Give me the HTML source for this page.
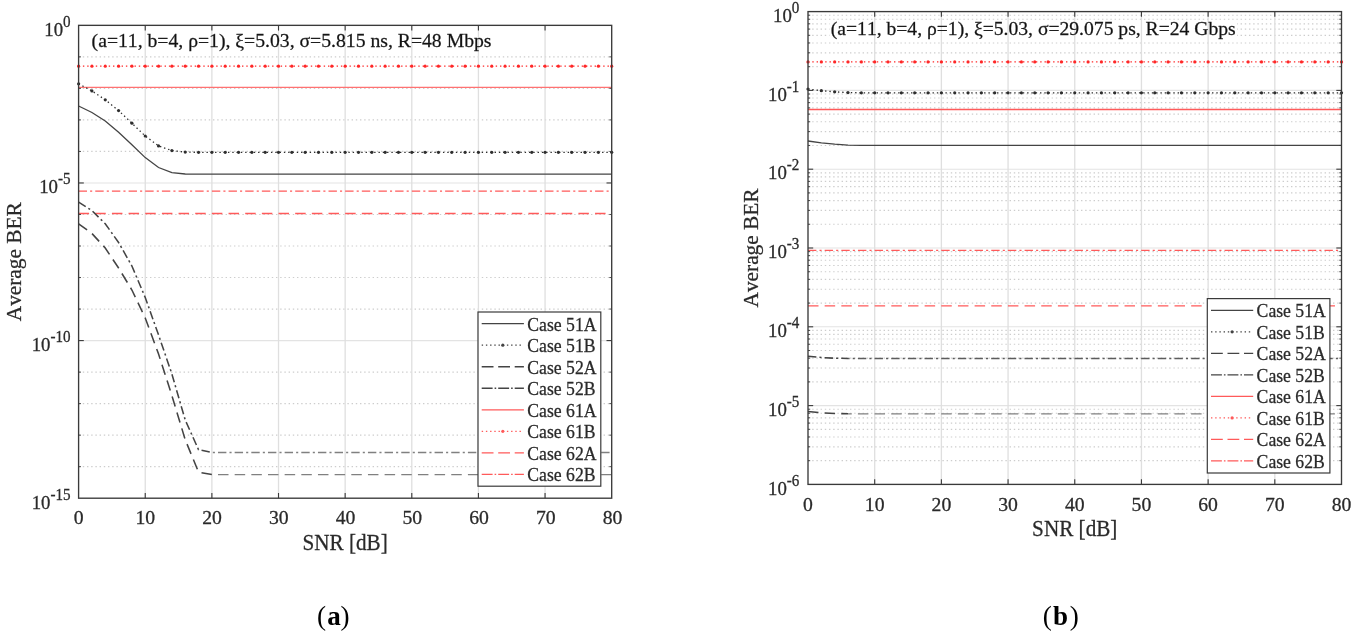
<!DOCTYPE html>
<html lang="en">
<head>
<meta charset="utf-8">
<title>Average BER versus SNR</title>
<style>
html,body{margin:0;padding:0;background:#fff;}
body{width:1357px;height:640px;overflow:hidden;}
svg{display:block;filter:blur(0.35px);}
svg text{font-family:"Liberation Serif",serif;font-kerning:none;font-variant-ligatures:none;stroke:#2a2a2a;stroke-width:0.28px;}
svg .cap text{stroke:none;}
</style>
</head>
<body>
<svg width="1357" height="640" viewBox="0 0 1357 640">
<rect width="1357" height="640" fill="#fff"/>
<line x1="78.6" y1="56.87" x2="611.7" y2="56.87" stroke="#cdcdcd" stroke-width="1.15" stroke-dasharray="1.4 2.8"/>
<line x1="78.6" y1="88.4" x2="611.7" y2="88.4" stroke="#cdcdcd" stroke-width="1.15" stroke-dasharray="1.4 2.8"/>
<line x1="78.6" y1="119.92" x2="611.7" y2="119.92" stroke="#cdcdcd" stroke-width="1.15" stroke-dasharray="1.4 2.8"/>
<line x1="78.6" y1="151.44" x2="611.7" y2="151.44" stroke="#cdcdcd" stroke-width="1.15" stroke-dasharray="1.4 2.8"/>
<line x1="78.6" y1="182.97" x2="611.7" y2="182.97" stroke="#e3e3e3" stroke-width="1.1"/>
<line x1="78.6" y1="214.49" x2="611.7" y2="214.49" stroke="#cdcdcd" stroke-width="1.15" stroke-dasharray="1.4 2.8"/>
<line x1="78.6" y1="246.01" x2="611.7" y2="246.01" stroke="#cdcdcd" stroke-width="1.15" stroke-dasharray="1.4 2.8"/>
<line x1="78.6" y1="277.54" x2="611.7" y2="277.54" stroke="#cdcdcd" stroke-width="1.15" stroke-dasharray="1.4 2.8"/>
<line x1="78.6" y1="309.06" x2="611.7" y2="309.06" stroke="#cdcdcd" stroke-width="1.15" stroke-dasharray="1.4 2.8"/>
<line x1="78.6" y1="340.58" x2="611.7" y2="340.58" stroke="#e3e3e3" stroke-width="1.1"/>
<line x1="78.6" y1="372.11" x2="611.7" y2="372.11" stroke="#cdcdcd" stroke-width="1.15" stroke-dasharray="1.4 2.8"/>
<line x1="78.6" y1="403.63" x2="611.7" y2="403.63" stroke="#cdcdcd" stroke-width="1.15" stroke-dasharray="1.4 2.8"/>
<line x1="78.6" y1="435.15" x2="611.7" y2="435.15" stroke="#cdcdcd" stroke-width="1.15" stroke-dasharray="1.4 2.8"/>
<line x1="78.6" y1="466.68" x2="611.7" y2="466.68" stroke="#cdcdcd" stroke-width="1.15" stroke-dasharray="1.4 2.8"/>
<line x1="145.24" y1="25.35" x2="145.24" y2="498.2" stroke="#dfdfdf" stroke-width="1.3"/>
<line x1="211.88" y1="25.35" x2="211.88" y2="498.2" stroke="#dfdfdf" stroke-width="1.3"/>
<line x1="278.51" y1="25.35" x2="278.51" y2="498.2" stroke="#dfdfdf" stroke-width="1.3"/>
<line x1="345.15" y1="25.35" x2="345.15" y2="498.2" stroke="#dfdfdf" stroke-width="1.3"/>
<line x1="411.79" y1="25.35" x2="411.79" y2="498.2" stroke="#dfdfdf" stroke-width="1.3"/>
<line x1="478.42" y1="25.35" x2="478.42" y2="498.2" stroke="#dfdfdf" stroke-width="1.3"/>
<line x1="545.06" y1="25.35" x2="545.06" y2="498.2" stroke="#dfdfdf" stroke-width="1.3"/>
<polyline points="78.6,66.2 91.93,66.2 105.25,66.2 118.58,66.2 131.91,66.2 145.24,66.2 158.56,66.2 171.89,66.2 185.22,66.2 198.55,66.2 211.88,66.2 225.2,66.2 238.53,66.2 251.86,66.2 265.19,66.2 278.51,66.2 291.84,66.2 305.17,66.2 318.5,66.2 331.82,66.2 345.15,66.2 358.48,66.2 371.81,66.2 385.13,66.2 398.46,66.2 411.79,66.2 425.12,66.2 438.44,66.2 451.77,66.2 465.1,66.2 478.42,66.2 491.75,66.2 505.08,66.2 518.41,66.2 531.74,66.2 545.06,66.2 558.39,66.2 571.72,66.2 585.04,66.2 598.37,66.2 611.7,66.2" fill="none" stroke="#ff2828" stroke-width="1.3" stroke-dasharray="1.4 2.9"/>
<circle cx="78.6" cy="66.2" r="1.6" fill="#ff2828"/>
<circle cx="91.93" cy="66.2" r="1.6" fill="#ff2828"/>
<circle cx="105.25" cy="66.2" r="1.6" fill="#ff2828"/>
<circle cx="118.58" cy="66.2" r="1.6" fill="#ff2828"/>
<circle cx="131.91" cy="66.2" r="1.6" fill="#ff2828"/>
<circle cx="145.24" cy="66.2" r="1.6" fill="#ff2828"/>
<circle cx="158.56" cy="66.2" r="1.6" fill="#ff2828"/>
<circle cx="171.89" cy="66.2" r="1.6" fill="#ff2828"/>
<circle cx="185.22" cy="66.2" r="1.6" fill="#ff2828"/>
<circle cx="198.55" cy="66.2" r="1.6" fill="#ff2828"/>
<circle cx="211.88" cy="66.2" r="1.6" fill="#ff2828"/>
<circle cx="225.2" cy="66.2" r="1.6" fill="#ff2828"/>
<circle cx="238.53" cy="66.2" r="1.6" fill="#ff2828"/>
<circle cx="251.86" cy="66.2" r="1.6" fill="#ff2828"/>
<circle cx="265.19" cy="66.2" r="1.6" fill="#ff2828"/>
<circle cx="278.51" cy="66.2" r="1.6" fill="#ff2828"/>
<circle cx="291.84" cy="66.2" r="1.6" fill="#ff2828"/>
<circle cx="305.17" cy="66.2" r="1.6" fill="#ff2828"/>
<circle cx="318.5" cy="66.2" r="1.6" fill="#ff2828"/>
<circle cx="331.82" cy="66.2" r="1.6" fill="#ff2828"/>
<circle cx="345.15" cy="66.2" r="1.6" fill="#ff2828"/>
<circle cx="358.48" cy="66.2" r="1.6" fill="#ff2828"/>
<circle cx="371.81" cy="66.2" r="1.6" fill="#ff2828"/>
<circle cx="385.13" cy="66.2" r="1.6" fill="#ff2828"/>
<circle cx="398.46" cy="66.2" r="1.6" fill="#ff2828"/>
<circle cx="411.79" cy="66.2" r="1.6" fill="#ff2828"/>
<circle cx="425.12" cy="66.2" r="1.6" fill="#ff2828"/>
<circle cx="438.44" cy="66.2" r="1.6" fill="#ff2828"/>
<circle cx="451.77" cy="66.2" r="1.6" fill="#ff2828"/>
<circle cx="465.1" cy="66.2" r="1.6" fill="#ff2828"/>
<circle cx="478.42" cy="66.2" r="1.6" fill="#ff2828"/>
<circle cx="491.75" cy="66.2" r="1.6" fill="#ff2828"/>
<circle cx="505.08" cy="66.2" r="1.6" fill="#ff2828"/>
<circle cx="518.41" cy="66.2" r="1.6" fill="#ff2828"/>
<circle cx="531.74" cy="66.2" r="1.6" fill="#ff2828"/>
<circle cx="545.06" cy="66.2" r="1.6" fill="#ff2828"/>
<circle cx="558.39" cy="66.2" r="1.6" fill="#ff2828"/>
<circle cx="571.72" cy="66.2" r="1.6" fill="#ff2828"/>
<circle cx="585.04" cy="66.2" r="1.6" fill="#ff2828"/>
<circle cx="598.37" cy="66.2" r="1.6" fill="#ff2828"/>
<circle cx="611.7" cy="66.2" r="1.6" fill="#ff2828"/>
<polyline points="78.6,87.4 91.93,87.4 105.25,87.4 118.58,87.4 131.91,87.4 145.24,87.4 158.56,87.4 171.89,87.4 185.22,87.4 198.55,87.4 211.88,87.4 225.2,87.4 238.53,87.4 251.86,87.4 265.19,87.4 278.51,87.4 291.84,87.4 305.17,87.4 318.5,87.4 331.82,87.4 345.15,87.4 358.48,87.4 371.81,87.4 385.13,87.4 398.46,87.4 411.79,87.4 425.12,87.4 438.44,87.4 451.77,87.4 465.1,87.4 478.42,87.4 491.75,87.4 505.08,87.4 518.41,87.4 531.74,87.4 545.06,87.4 558.39,87.4 571.72,87.4 585.04,87.4 598.37,87.4 611.7,87.4" fill="none" stroke="#ff7272" stroke-width="1.3"/>
<polyline points="78.6,191.1 91.93,191.1 105.25,191.1 118.58,191.1 131.91,191.1 145.24,191.1 158.56,191.1 171.89,191.1 185.22,191.1 198.55,191.1 211.88,191.1 225.2,191.1 238.53,191.1 251.86,191.1 265.19,191.1 278.51,191.1 291.84,191.1 305.17,191.1 318.5,191.1 331.82,191.1 345.15,191.1 358.48,191.1 371.81,191.1 385.13,191.1 398.46,191.1 411.79,191.1 425.12,191.1 438.44,191.1 451.77,191.1 465.1,191.1 478.42,191.1 491.75,191.1 505.08,191.1 518.41,191.1 531.74,191.1 545.06,191.1 558.39,191.1 571.72,191.1 585.04,191.1 598.37,191.1 611.7,191.1" fill="none" stroke="#ff5a5a" stroke-width="1.3" stroke-dasharray="8.4 3.1 2.1 3.06"/>
<polyline points="78.6,213.5 91.93,213.5 105.25,213.5 118.58,213.5 131.91,213.5 145.24,213.5 158.56,213.5 171.89,213.5 185.22,213.5 198.55,213.5 211.88,213.5 225.2,213.5 238.53,213.5 251.86,213.5 265.19,213.5 278.51,213.5 291.84,213.5 305.17,213.5 318.5,213.5 331.82,213.5 345.15,213.5 358.48,213.5 371.81,213.5 385.13,213.5 398.46,213.5 411.79,213.5 425.12,213.5 438.44,213.5 451.77,213.5 465.1,213.5 478.42,213.5 491.75,213.5 505.08,213.5 518.41,213.5 531.74,213.5 545.06,213.5 558.39,213.5 571.72,213.5 585.04,213.5 598.37,213.5 611.7,213.5" fill="none" stroke="#ff5a5a" stroke-width="1.3" stroke-dasharray="10.5 6.16"/>
<polyline points="78.6,83.8 91.93,90.9 105.25,99.8 118.58,110.6 131.91,123.2 145.24,136 158.56,145.9 171.89,150.6 185.22,152.1 198.55,152.3 211.88,152.3 225.2,152.3 238.53,152.3 251.86,152.3 265.19,152.3 278.51,152.3 291.84,152.3 305.17,152.3 318.5,152.3 331.82,152.3 345.15,152.3 358.48,152.3 371.81,152.3 385.13,152.3 398.46,152.3 411.79,152.3 425.12,152.3 438.44,152.3 451.77,152.3 465.1,152.3 478.42,152.3 491.75,152.3 505.08,152.3 518.41,152.3 531.74,152.3 545.06,152.3 558.39,152.3 571.72,152.3 585.04,152.3 598.37,152.3 611.7,152.3" fill="none" stroke="#2e2e2e" stroke-width="1.3" stroke-dasharray="1.4 2.9"/>
<circle cx="78.6" cy="83.8" r="1.6" fill="#2e2e2e"/>
<circle cx="91.93" cy="90.9" r="1.6" fill="#2e2e2e"/>
<circle cx="105.25" cy="99.8" r="1.6" fill="#2e2e2e"/>
<circle cx="118.58" cy="110.6" r="1.6" fill="#2e2e2e"/>
<circle cx="131.91" cy="123.2" r="1.6" fill="#2e2e2e"/>
<circle cx="145.24" cy="136" r="1.6" fill="#2e2e2e"/>
<circle cx="158.56" cy="145.9" r="1.6" fill="#2e2e2e"/>
<circle cx="171.89" cy="150.6" r="1.6" fill="#2e2e2e"/>
<circle cx="185.22" cy="152.1" r="1.6" fill="#2e2e2e"/>
<circle cx="198.55" cy="152.3" r="1.6" fill="#2e2e2e"/>
<circle cx="211.88" cy="152.3" r="1.6" fill="#2e2e2e"/>
<circle cx="225.2" cy="152.3" r="1.6" fill="#2e2e2e"/>
<circle cx="238.53" cy="152.3" r="1.6" fill="#2e2e2e"/>
<circle cx="251.86" cy="152.3" r="1.6" fill="#2e2e2e"/>
<circle cx="265.19" cy="152.3" r="1.6" fill="#2e2e2e"/>
<circle cx="278.51" cy="152.3" r="1.6" fill="#2e2e2e"/>
<circle cx="291.84" cy="152.3" r="1.6" fill="#2e2e2e"/>
<circle cx="305.17" cy="152.3" r="1.6" fill="#2e2e2e"/>
<circle cx="318.5" cy="152.3" r="1.6" fill="#2e2e2e"/>
<circle cx="331.82" cy="152.3" r="1.6" fill="#2e2e2e"/>
<circle cx="345.15" cy="152.3" r="1.6" fill="#2e2e2e"/>
<circle cx="358.48" cy="152.3" r="1.6" fill="#2e2e2e"/>
<circle cx="371.81" cy="152.3" r="1.6" fill="#2e2e2e"/>
<circle cx="385.13" cy="152.3" r="1.6" fill="#2e2e2e"/>
<circle cx="398.46" cy="152.3" r="1.6" fill="#2e2e2e"/>
<circle cx="411.79" cy="152.3" r="1.6" fill="#2e2e2e"/>
<circle cx="425.12" cy="152.3" r="1.6" fill="#2e2e2e"/>
<circle cx="438.44" cy="152.3" r="1.6" fill="#2e2e2e"/>
<circle cx="451.77" cy="152.3" r="1.6" fill="#2e2e2e"/>
<circle cx="465.1" cy="152.3" r="1.6" fill="#2e2e2e"/>
<circle cx="478.42" cy="152.3" r="1.6" fill="#2e2e2e"/>
<circle cx="491.75" cy="152.3" r="1.6" fill="#2e2e2e"/>
<circle cx="505.08" cy="152.3" r="1.6" fill="#2e2e2e"/>
<circle cx="518.41" cy="152.3" r="1.6" fill="#2e2e2e"/>
<circle cx="531.74" cy="152.3" r="1.6" fill="#2e2e2e"/>
<circle cx="545.06" cy="152.3" r="1.6" fill="#2e2e2e"/>
<circle cx="558.39" cy="152.3" r="1.6" fill="#2e2e2e"/>
<circle cx="571.72" cy="152.3" r="1.6" fill="#2e2e2e"/>
<circle cx="585.04" cy="152.3" r="1.6" fill="#2e2e2e"/>
<circle cx="598.37" cy="152.3" r="1.6" fill="#2e2e2e"/>
<circle cx="611.7" cy="152.3" r="1.6" fill="#2e2e2e"/>
<polyline points="78.6,106 91.93,112.5 105.25,121 118.58,132.2 131.91,144.8 145.24,157.6 158.56,167.5 171.89,172.6 185.22,174 198.55,174.2 211.88,174.2 225.2,174.2 238.53,174.2 251.86,174.2 265.19,174.2 278.51,174.2 291.84,174.2 305.17,174.2 318.5,174.2 331.82,174.2 345.15,174.2 358.48,174.2 371.81,174.2 385.13,174.2 398.46,174.2 411.79,174.2 425.12,174.2 438.44,174.2 451.77,174.2 465.1,174.2 478.42,174.2 491.75,174.2 505.08,174.2 518.41,174.2 531.74,174.2 545.06,174.2 558.39,174.2 571.72,174.2 585.04,174.2 598.37,174.2 611.7,174.2" fill="none" stroke="#444444" stroke-width="1.3"/>
<polyline points="78.6,202.2 91.93,210.6 105.25,223.8 118.58,242.5 131.91,266 145.24,297.5 158.56,335 171.89,374 185.22,420 198.55,449.7 211.88,452.5" fill="none" stroke="#444444" stroke-width="1.55" stroke-dasharray="8.4 3.1 2.1 3.06"/>
<line x1="211.88" y1="452.5" x2="611.7" y2="452.5" stroke="#808080" stroke-width="1.3" stroke-dasharray="8.4 3.1 2.1 3.06" stroke-dashoffset="10.55"/>
<polyline points="78.6,223.8 91.93,233.5 105.25,248 118.58,268 131.91,290 145.24,318 158.56,354 171.89,395.6 185.22,439.7 198.55,472.2 211.88,474.6" fill="none" stroke="#444444" stroke-width="1.55" stroke-dasharray="10.5 6.16"/>
<line x1="211.88" y1="474.6" x2="611.7" y2="474.6" stroke="#808080" stroke-width="1.3" stroke-dasharray="10.5 6.16" stroke-dashoffset="10.53"/>
<rect x="78.6" y="25.35" width="533.1" height="472.85" fill="none" stroke="#3a3a3a" stroke-width="1.35"/>
<line x1="145.24" y1="493" x2="145.24" y2="498.2" stroke="#3a3a3a" stroke-width="1.1"/>
<line x1="145.24" y1="25.35" x2="145.24" y2="30.55" stroke="#3a3a3a" stroke-width="1.1"/>
<line x1="211.88" y1="493" x2="211.88" y2="498.2" stroke="#3a3a3a" stroke-width="1.1"/>
<line x1="211.88" y1="25.35" x2="211.88" y2="30.55" stroke="#3a3a3a" stroke-width="1.1"/>
<line x1="278.51" y1="493" x2="278.51" y2="498.2" stroke="#3a3a3a" stroke-width="1.1"/>
<line x1="278.51" y1="25.35" x2="278.51" y2="30.55" stroke="#3a3a3a" stroke-width="1.1"/>
<line x1="345.15" y1="493" x2="345.15" y2="498.2" stroke="#3a3a3a" stroke-width="1.1"/>
<line x1="345.15" y1="25.35" x2="345.15" y2="30.55" stroke="#3a3a3a" stroke-width="1.1"/>
<line x1="411.79" y1="493" x2="411.79" y2="498.2" stroke="#3a3a3a" stroke-width="1.1"/>
<line x1="411.79" y1="25.35" x2="411.79" y2="30.55" stroke="#3a3a3a" stroke-width="1.1"/>
<line x1="478.42" y1="493" x2="478.42" y2="498.2" stroke="#3a3a3a" stroke-width="1.1"/>
<line x1="478.42" y1="25.35" x2="478.42" y2="30.55" stroke="#3a3a3a" stroke-width="1.1"/>
<line x1="545.06" y1="493" x2="545.06" y2="498.2" stroke="#3a3a3a" stroke-width="1.1"/>
<line x1="545.06" y1="25.35" x2="545.06" y2="30.55" stroke="#3a3a3a" stroke-width="1.1"/>
<line x1="78.6" y1="56.87" x2="81" y2="56.87" stroke="#3a3a3a" stroke-width="0.9"/>
<line x1="609.3" y1="56.87" x2="611.7" y2="56.87" stroke="#3a3a3a" stroke-width="0.9"/>
<line x1="78.6" y1="88.4" x2="81" y2="88.4" stroke="#3a3a3a" stroke-width="0.9"/>
<line x1="609.3" y1="88.4" x2="611.7" y2="88.4" stroke="#3a3a3a" stroke-width="0.9"/>
<line x1="78.6" y1="119.92" x2="81" y2="119.92" stroke="#3a3a3a" stroke-width="0.9"/>
<line x1="609.3" y1="119.92" x2="611.7" y2="119.92" stroke="#3a3a3a" stroke-width="0.9"/>
<line x1="78.6" y1="151.44" x2="81" y2="151.44" stroke="#3a3a3a" stroke-width="0.9"/>
<line x1="609.3" y1="151.44" x2="611.7" y2="151.44" stroke="#3a3a3a" stroke-width="0.9"/>
<line x1="78.6" y1="182.97" x2="83.8" y2="182.97" stroke="#3a3a3a" stroke-width="1.1"/>
<line x1="606.5" y1="182.97" x2="611.7" y2="182.97" stroke="#3a3a3a" stroke-width="1.1"/>
<line x1="78.6" y1="214.49" x2="81" y2="214.49" stroke="#3a3a3a" stroke-width="0.9"/>
<line x1="609.3" y1="214.49" x2="611.7" y2="214.49" stroke="#3a3a3a" stroke-width="0.9"/>
<line x1="78.6" y1="246.01" x2="81" y2="246.01" stroke="#3a3a3a" stroke-width="0.9"/>
<line x1="609.3" y1="246.01" x2="611.7" y2="246.01" stroke="#3a3a3a" stroke-width="0.9"/>
<line x1="78.6" y1="277.54" x2="81" y2="277.54" stroke="#3a3a3a" stroke-width="0.9"/>
<line x1="609.3" y1="277.54" x2="611.7" y2="277.54" stroke="#3a3a3a" stroke-width="0.9"/>
<line x1="78.6" y1="309.06" x2="81" y2="309.06" stroke="#3a3a3a" stroke-width="0.9"/>
<line x1="609.3" y1="309.06" x2="611.7" y2="309.06" stroke="#3a3a3a" stroke-width="0.9"/>
<line x1="78.6" y1="340.58" x2="83.8" y2="340.58" stroke="#3a3a3a" stroke-width="1.1"/>
<line x1="606.5" y1="340.58" x2="611.7" y2="340.58" stroke="#3a3a3a" stroke-width="1.1"/>
<line x1="78.6" y1="372.11" x2="81" y2="372.11" stroke="#3a3a3a" stroke-width="0.9"/>
<line x1="609.3" y1="372.11" x2="611.7" y2="372.11" stroke="#3a3a3a" stroke-width="0.9"/>
<line x1="78.6" y1="403.63" x2="81" y2="403.63" stroke="#3a3a3a" stroke-width="0.9"/>
<line x1="609.3" y1="403.63" x2="611.7" y2="403.63" stroke="#3a3a3a" stroke-width="0.9"/>
<line x1="78.6" y1="435.15" x2="81" y2="435.15" stroke="#3a3a3a" stroke-width="0.9"/>
<line x1="609.3" y1="435.15" x2="611.7" y2="435.15" stroke="#3a3a3a" stroke-width="0.9"/>
<line x1="78.6" y1="466.68" x2="81" y2="466.68" stroke="#3a3a3a" stroke-width="0.9"/>
<line x1="609.3" y1="466.68" x2="611.7" y2="466.68" stroke="#3a3a3a" stroke-width="0.9"/>
<text x="78.6" y="524.35" font-size="19.7" text-anchor="middle" fill="#2a2a2a">0</text>
<text x="145.35" y="524.35" font-size="19.7" text-anchor="middle" fill="#2a2a2a">10</text>
<text x="212.1" y="524.35" font-size="19.7" text-anchor="middle" fill="#2a2a2a">20</text>
<text x="278.85" y="524.35" font-size="19.7" text-anchor="middle" fill="#2a2a2a">30</text>
<text x="345.6" y="524.35" font-size="19.7" text-anchor="middle" fill="#2a2a2a">40</text>
<text x="412.35" y="524.35" font-size="19.7" text-anchor="middle" fill="#2a2a2a">50</text>
<text x="479.1" y="524.35" font-size="19.7" text-anchor="middle" fill="#2a2a2a">60</text>
<text x="545.85" y="524.35" font-size="19.7" text-anchor="middle" fill="#2a2a2a">70</text>
<text x="612.6" y="524.35" font-size="19.7" text-anchor="middle" fill="#2a2a2a">80</text>
<text transform="translate(345.15 550.2) scale(0.925 1)" font-size="22.9" text-anchor="middle" fill="#2a2a2a">SNR [dB]</text>
<text transform="translate(70.6 35.75) scale(0.955 1)" font-size="19.7" text-anchor="end" fill="#2a2a2a">10<tspan font-size="15.8" dy="-8.9">0</tspan></text>
<text transform="translate(70.6 193.37) scale(0.955 1)" font-size="19.7" text-anchor="end" fill="#2a2a2a">10<tspan font-size="15.8" dy="-8.9">-5</tspan></text>
<text transform="translate(70.6 350.98) scale(0.955 1)" font-size="19.7" text-anchor="end" fill="#2a2a2a">10<tspan font-size="15.8" dy="-8.9">-10</tspan></text>
<text transform="translate(70.6 508.6) scale(0.955 1)" font-size="19.7" text-anchor="end" fill="#2a2a2a">10<tspan font-size="15.8" dy="-8.9">-15</tspan></text>
<text transform="translate(21.3 261.77) rotate(-90)" font-size="21.3" text-anchor="middle" fill="#2a2a2a">Average BER</text>
<text x="91.6" y="46.6" font-size="19.7" text-anchor="start" fill="#111">(a=11, b=4, ρ=1), ξ=5.03, σ=5.815 ns, R=48 Mbps</text>
<rect x="478" y="312" width="122.8" height="174.2" fill="#fff" stroke="#3a3a3a" stroke-width="1.2"/>
<line x1="481.7" y1="323.7" x2="523.9" y2="323.7" stroke="#444444" stroke-width="1.3"/>
<text transform="translate(527.3 330.5) scale(0.945 1)" font-size="18.7" fill="#2a2a2a">Case 51A</text>
<line x1="481.7" y1="345.22" x2="520.9" y2="345.22" stroke="#444444" stroke-width="1.2" stroke-dasharray="1.4 2.8"/>
<circle cx="502.8" cy="345.22" r="1.6" fill="#444444"/>
<text transform="translate(527.3 352.02) scale(0.945 1)" font-size="18.7" fill="#2a2a2a">Case 51B</text>
<line x1="481.7" y1="366.74" x2="523.9" y2="366.74" stroke="#444444" stroke-width="1.3" stroke-dasharray="11.8 4.7"/>
<text transform="translate(527.3 373.54) scale(0.945 1)" font-size="18.7" fill="#2a2a2a">Case 52A</text>
<line x1="481.7" y1="388.26" x2="523.9" y2="388.26" stroke="#444444" stroke-width="1.3" stroke-dasharray="10.9 2 1.6 2"/>
<text transform="translate(527.3 395.06) scale(0.945 1)" font-size="18.7" fill="#2a2a2a">Case 52B</text>
<line x1="481.7" y1="409.78" x2="523.9" y2="409.78" stroke="#ff5a5a" stroke-width="1.3"/>
<text transform="translate(527.3 416.58) scale(0.945 1)" font-size="18.7" fill="#2a2a2a">Case 61A</text>
<line x1="481.7" y1="431.3" x2="520.9" y2="431.3" stroke="#ff5a5a" stroke-width="1.2" stroke-dasharray="1.4 2.8"/>
<circle cx="502.8" cy="431.3" r="1.6" fill="#ff5a5a"/>
<text transform="translate(527.3 438.1) scale(0.945 1)" font-size="18.7" fill="#2a2a2a">Case 61B</text>
<line x1="481.7" y1="452.82" x2="523.9" y2="452.82" stroke="#ff5a5a" stroke-width="1.3" stroke-dasharray="11.8 4.7"/>
<text transform="translate(527.3 459.62) scale(0.945 1)" font-size="18.7" fill="#2a2a2a">Case 62A</text>
<line x1="481.7" y1="474.34" x2="523.9" y2="474.34" stroke="#ff5a5a" stroke-width="1.3" stroke-dasharray="10.9 2 1.6 2"/>
<text transform="translate(527.3 481.14) scale(0.945 1)" font-size="18.7" fill="#2a2a2a">Case 62B</text>
<line x1="808" y1="66.68" x2="1341.5" y2="66.68" stroke="#cdcdcd" stroke-width="1.15" stroke-dasharray="1.4 2.8"/>
<line x1="808" y1="52.8" x2="1341.5" y2="52.8" stroke="#cdcdcd" stroke-width="1.15" stroke-dasharray="1.4 2.8"/>
<line x1="808" y1="42.96" x2="1341.5" y2="42.96" stroke="#cdcdcd" stroke-width="1.15" stroke-dasharray="1.4 2.8"/>
<line x1="808" y1="35.32" x2="1341.5" y2="35.32" stroke="#cdcdcd" stroke-width="1.15" stroke-dasharray="1.4 2.8"/>
<line x1="808" y1="29.08" x2="1341.5" y2="29.08" stroke="#cdcdcd" stroke-width="1.15" stroke-dasharray="1.4 2.8"/>
<line x1="808" y1="23.81" x2="1341.5" y2="23.81" stroke="#cdcdcd" stroke-width="1.15" stroke-dasharray="1.4 2.8"/>
<line x1="808" y1="19.24" x2="1341.5" y2="19.24" stroke="#cdcdcd" stroke-width="1.15" stroke-dasharray="1.4 2.8"/>
<line x1="808" y1="15.21" x2="1341.5" y2="15.21" stroke="#cdcdcd" stroke-width="1.15" stroke-dasharray="1.4 2.8"/>
<line x1="808" y1="90.4" x2="1341.5" y2="90.4" stroke="#e3e3e3" stroke-width="1.1"/>
<line x1="808" y1="145.48" x2="1341.5" y2="145.48" stroke="#cdcdcd" stroke-width="1.15" stroke-dasharray="1.4 2.8"/>
<line x1="808" y1="131.6" x2="1341.5" y2="131.6" stroke="#cdcdcd" stroke-width="1.15" stroke-dasharray="1.4 2.8"/>
<line x1="808" y1="121.76" x2="1341.5" y2="121.76" stroke="#cdcdcd" stroke-width="1.15" stroke-dasharray="1.4 2.8"/>
<line x1="808" y1="114.12" x2="1341.5" y2="114.12" stroke="#cdcdcd" stroke-width="1.15" stroke-dasharray="1.4 2.8"/>
<line x1="808" y1="107.88" x2="1341.5" y2="107.88" stroke="#cdcdcd" stroke-width="1.15" stroke-dasharray="1.4 2.8"/>
<line x1="808" y1="102.61" x2="1341.5" y2="102.61" stroke="#cdcdcd" stroke-width="1.15" stroke-dasharray="1.4 2.8"/>
<line x1="808" y1="98.04" x2="1341.5" y2="98.04" stroke="#cdcdcd" stroke-width="1.15" stroke-dasharray="1.4 2.8"/>
<line x1="808" y1="94.01" x2="1341.5" y2="94.01" stroke="#cdcdcd" stroke-width="1.15" stroke-dasharray="1.4 2.8"/>
<line x1="808" y1="169.2" x2="1341.5" y2="169.2" stroke="#e3e3e3" stroke-width="1.1"/>
<line x1="808" y1="224.28" x2="1341.5" y2="224.28" stroke="#cdcdcd" stroke-width="1.15" stroke-dasharray="1.4 2.8"/>
<line x1="808" y1="210.4" x2="1341.5" y2="210.4" stroke="#cdcdcd" stroke-width="1.15" stroke-dasharray="1.4 2.8"/>
<line x1="808" y1="200.56" x2="1341.5" y2="200.56" stroke="#cdcdcd" stroke-width="1.15" stroke-dasharray="1.4 2.8"/>
<line x1="808" y1="192.92" x2="1341.5" y2="192.92" stroke="#cdcdcd" stroke-width="1.15" stroke-dasharray="1.4 2.8"/>
<line x1="808" y1="186.68" x2="1341.5" y2="186.68" stroke="#cdcdcd" stroke-width="1.15" stroke-dasharray="1.4 2.8"/>
<line x1="808" y1="181.41" x2="1341.5" y2="181.41" stroke="#cdcdcd" stroke-width="1.15" stroke-dasharray="1.4 2.8"/>
<line x1="808" y1="176.84" x2="1341.5" y2="176.84" stroke="#cdcdcd" stroke-width="1.15" stroke-dasharray="1.4 2.8"/>
<line x1="808" y1="172.81" x2="1341.5" y2="172.81" stroke="#cdcdcd" stroke-width="1.15" stroke-dasharray="1.4 2.8"/>
<line x1="808" y1="248" x2="1341.5" y2="248" stroke="#e3e3e3" stroke-width="1.1"/>
<line x1="808" y1="303.08" x2="1341.5" y2="303.08" stroke="#cdcdcd" stroke-width="1.15" stroke-dasharray="1.4 2.8"/>
<line x1="808" y1="289.2" x2="1341.5" y2="289.2" stroke="#cdcdcd" stroke-width="1.15" stroke-dasharray="1.4 2.8"/>
<line x1="808" y1="279.36" x2="1341.5" y2="279.36" stroke="#cdcdcd" stroke-width="1.15" stroke-dasharray="1.4 2.8"/>
<line x1="808" y1="271.72" x2="1341.5" y2="271.72" stroke="#cdcdcd" stroke-width="1.15" stroke-dasharray="1.4 2.8"/>
<line x1="808" y1="265.48" x2="1341.5" y2="265.48" stroke="#cdcdcd" stroke-width="1.15" stroke-dasharray="1.4 2.8"/>
<line x1="808" y1="260.21" x2="1341.5" y2="260.21" stroke="#cdcdcd" stroke-width="1.15" stroke-dasharray="1.4 2.8"/>
<line x1="808" y1="255.64" x2="1341.5" y2="255.64" stroke="#cdcdcd" stroke-width="1.15" stroke-dasharray="1.4 2.8"/>
<line x1="808" y1="251.61" x2="1341.5" y2="251.61" stroke="#cdcdcd" stroke-width="1.15" stroke-dasharray="1.4 2.8"/>
<line x1="808" y1="326.8" x2="1341.5" y2="326.8" stroke="#e3e3e3" stroke-width="1.1"/>
<line x1="808" y1="381.88" x2="1341.5" y2="381.88" stroke="#cdcdcd" stroke-width="1.15" stroke-dasharray="1.4 2.8"/>
<line x1="808" y1="368" x2="1341.5" y2="368" stroke="#cdcdcd" stroke-width="1.15" stroke-dasharray="1.4 2.8"/>
<line x1="808" y1="358.16" x2="1341.5" y2="358.16" stroke="#cdcdcd" stroke-width="1.15" stroke-dasharray="1.4 2.8"/>
<line x1="808" y1="350.52" x2="1341.5" y2="350.52" stroke="#cdcdcd" stroke-width="1.15" stroke-dasharray="1.4 2.8"/>
<line x1="808" y1="344.28" x2="1341.5" y2="344.28" stroke="#cdcdcd" stroke-width="1.15" stroke-dasharray="1.4 2.8"/>
<line x1="808" y1="339.01" x2="1341.5" y2="339.01" stroke="#cdcdcd" stroke-width="1.15" stroke-dasharray="1.4 2.8"/>
<line x1="808" y1="334.44" x2="1341.5" y2="334.44" stroke="#cdcdcd" stroke-width="1.15" stroke-dasharray="1.4 2.8"/>
<line x1="808" y1="330.41" x2="1341.5" y2="330.41" stroke="#cdcdcd" stroke-width="1.15" stroke-dasharray="1.4 2.8"/>
<line x1="808" y1="405.6" x2="1341.5" y2="405.6" stroke="#e3e3e3" stroke-width="1.1"/>
<line x1="808" y1="460.68" x2="1341.5" y2="460.68" stroke="#cdcdcd" stroke-width="1.15" stroke-dasharray="1.4 2.8"/>
<line x1="808" y1="446.8" x2="1341.5" y2="446.8" stroke="#cdcdcd" stroke-width="1.15" stroke-dasharray="1.4 2.8"/>
<line x1="808" y1="436.96" x2="1341.5" y2="436.96" stroke="#cdcdcd" stroke-width="1.15" stroke-dasharray="1.4 2.8"/>
<line x1="808" y1="429.32" x2="1341.5" y2="429.32" stroke="#cdcdcd" stroke-width="1.15" stroke-dasharray="1.4 2.8"/>
<line x1="808" y1="423.08" x2="1341.5" y2="423.08" stroke="#cdcdcd" stroke-width="1.15" stroke-dasharray="1.4 2.8"/>
<line x1="808" y1="417.81" x2="1341.5" y2="417.81" stroke="#cdcdcd" stroke-width="1.15" stroke-dasharray="1.4 2.8"/>
<line x1="808" y1="413.24" x2="1341.5" y2="413.24" stroke="#cdcdcd" stroke-width="1.15" stroke-dasharray="1.4 2.8"/>
<line x1="808" y1="409.21" x2="1341.5" y2="409.21" stroke="#cdcdcd" stroke-width="1.15" stroke-dasharray="1.4 2.8"/>
<rect x="829.5" y="21.4" width="407.5" height="20" fill="#fff"/>
<line x1="874.69" y1="11.6" x2="874.69" y2="484.4" stroke="#dfdfdf" stroke-width="1.3"/>
<line x1="941.38" y1="11.6" x2="941.38" y2="484.4" stroke="#dfdfdf" stroke-width="1.3"/>
<line x1="1008.06" y1="11.6" x2="1008.06" y2="484.4" stroke="#dfdfdf" stroke-width="1.3"/>
<line x1="1074.75" y1="11.6" x2="1074.75" y2="484.4" stroke="#dfdfdf" stroke-width="1.3"/>
<line x1="1141.44" y1="11.6" x2="1141.44" y2="484.4" stroke="#dfdfdf" stroke-width="1.3"/>
<line x1="1208.12" y1="11.6" x2="1208.12" y2="484.4" stroke="#dfdfdf" stroke-width="1.3"/>
<line x1="1274.81" y1="11.6" x2="1274.81" y2="484.4" stroke="#dfdfdf" stroke-width="1.3"/>
<polyline points="808,61.9 821.34,61.9 834.67,61.9 848.01,61.9 861.35,61.9 874.69,61.9 888.02,61.9 901.36,61.9 914.7,61.9 928.04,61.9 941.38,61.9 954.71,61.9 968.05,61.9 981.39,61.9 994.73,61.9 1008.06,61.9 1021.4,61.9 1034.74,61.9 1048.08,61.9 1061.41,61.9 1074.75,61.9 1088.09,61.9 1101.42,61.9 1114.76,61.9 1128.1,61.9 1141.44,61.9 1154.78,61.9 1168.11,61.9 1181.45,61.9 1194.79,61.9 1208.12,61.9 1221.46,61.9 1234.8,61.9 1248.14,61.9 1261.47,61.9 1274.81,61.9 1288.15,61.9 1301.49,61.9 1314.83,61.9 1328.16,61.9 1341.5,61.9" fill="none" stroke="#ff2828" stroke-width="1.3" stroke-dasharray="1.4 2.9"/>
<circle cx="808" cy="61.9" r="1.6" fill="#ff2828"/>
<circle cx="821.34" cy="61.9" r="1.6" fill="#ff2828"/>
<circle cx="834.67" cy="61.9" r="1.6" fill="#ff2828"/>
<circle cx="848.01" cy="61.9" r="1.6" fill="#ff2828"/>
<circle cx="861.35" cy="61.9" r="1.6" fill="#ff2828"/>
<circle cx="874.69" cy="61.9" r="1.6" fill="#ff2828"/>
<circle cx="888.02" cy="61.9" r="1.6" fill="#ff2828"/>
<circle cx="901.36" cy="61.9" r="1.6" fill="#ff2828"/>
<circle cx="914.7" cy="61.9" r="1.6" fill="#ff2828"/>
<circle cx="928.04" cy="61.9" r="1.6" fill="#ff2828"/>
<circle cx="941.38" cy="61.9" r="1.6" fill="#ff2828"/>
<circle cx="954.71" cy="61.9" r="1.6" fill="#ff2828"/>
<circle cx="968.05" cy="61.9" r="1.6" fill="#ff2828"/>
<circle cx="981.39" cy="61.9" r="1.6" fill="#ff2828"/>
<circle cx="994.73" cy="61.9" r="1.6" fill="#ff2828"/>
<circle cx="1008.06" cy="61.9" r="1.6" fill="#ff2828"/>
<circle cx="1021.4" cy="61.9" r="1.6" fill="#ff2828"/>
<circle cx="1034.74" cy="61.9" r="1.6" fill="#ff2828"/>
<circle cx="1048.08" cy="61.9" r="1.6" fill="#ff2828"/>
<circle cx="1061.41" cy="61.9" r="1.6" fill="#ff2828"/>
<circle cx="1074.75" cy="61.9" r="1.6" fill="#ff2828"/>
<circle cx="1088.09" cy="61.9" r="1.6" fill="#ff2828"/>
<circle cx="1101.42" cy="61.9" r="1.6" fill="#ff2828"/>
<circle cx="1114.76" cy="61.9" r="1.6" fill="#ff2828"/>
<circle cx="1128.1" cy="61.9" r="1.6" fill="#ff2828"/>
<circle cx="1141.44" cy="61.9" r="1.6" fill="#ff2828"/>
<circle cx="1154.78" cy="61.9" r="1.6" fill="#ff2828"/>
<circle cx="1168.11" cy="61.9" r="1.6" fill="#ff2828"/>
<circle cx="1181.45" cy="61.9" r="1.6" fill="#ff2828"/>
<circle cx="1194.79" cy="61.9" r="1.6" fill="#ff2828"/>
<circle cx="1208.12" cy="61.9" r="1.6" fill="#ff2828"/>
<circle cx="1221.46" cy="61.9" r="1.6" fill="#ff2828"/>
<circle cx="1234.8" cy="61.9" r="1.6" fill="#ff2828"/>
<circle cx="1248.14" cy="61.9" r="1.6" fill="#ff2828"/>
<circle cx="1261.47" cy="61.9" r="1.6" fill="#ff2828"/>
<circle cx="1274.81" cy="61.9" r="1.6" fill="#ff2828"/>
<circle cx="1288.15" cy="61.9" r="1.6" fill="#ff2828"/>
<circle cx="1301.49" cy="61.9" r="1.6" fill="#ff2828"/>
<circle cx="1314.83" cy="61.9" r="1.6" fill="#ff2828"/>
<circle cx="1328.16" cy="61.9" r="1.6" fill="#ff2828"/>
<circle cx="1341.5" cy="61.9" r="1.6" fill="#ff2828"/>
<polyline points="808,109.5 821.34,109.5 834.67,109.5 848.01,109.5 861.35,109.5 874.69,109.5 888.02,109.5 901.36,109.5 914.7,109.5 928.04,109.5 941.38,109.5 954.71,109.5 968.05,109.5 981.39,109.5 994.73,109.5 1008.06,109.5 1021.4,109.5 1034.74,109.5 1048.08,109.5 1061.41,109.5 1074.75,109.5 1088.09,109.5 1101.42,109.5 1114.76,109.5 1128.1,109.5 1141.44,109.5 1154.78,109.5 1168.11,109.5 1181.45,109.5 1194.79,109.5 1208.12,109.5 1221.46,109.5 1234.8,109.5 1248.14,109.5 1261.47,109.5 1274.81,109.5 1288.15,109.5 1301.49,109.5 1314.83,109.5 1328.16,109.5 1341.5,109.5" fill="none" stroke="#ff5a5a" stroke-width="1.3"/>
<polyline points="808,250.4 821.34,250.4 834.67,250.4 848.01,250.4 861.35,250.4 874.69,250.4 888.02,250.4 901.36,250.4 914.7,250.4 928.04,250.4 941.38,250.4 954.71,250.4 968.05,250.4 981.39,250.4 994.73,250.4 1008.06,250.4 1021.4,250.4 1034.74,250.4 1048.08,250.4 1061.41,250.4 1074.75,250.4 1088.09,250.4 1101.42,250.4 1114.76,250.4 1128.1,250.4 1141.44,250.4 1154.78,250.4 1168.11,250.4 1181.45,250.4 1194.79,250.4 1208.12,250.4 1221.46,250.4 1234.8,250.4 1248.14,250.4 1261.47,250.4 1274.81,250.4 1288.15,250.4 1301.49,250.4 1314.83,250.4 1328.16,250.4 1341.5,250.4" fill="none" stroke="#ff5a5a" stroke-width="1.3" stroke-dasharray="8.4 3.1 2.1 3.06"/>
<polyline points="808,305.9 821.34,305.9 834.67,305.9 848.01,305.9 861.35,305.9 874.69,305.9 888.02,305.9 901.36,305.9 914.7,305.9 928.04,305.9 941.38,305.9 954.71,305.9 968.05,305.9 981.39,305.9 994.73,305.9 1008.06,305.9 1021.4,305.9 1034.74,305.9 1048.08,305.9 1061.41,305.9 1074.75,305.9 1088.09,305.9 1101.42,305.9 1114.76,305.9 1128.1,305.9 1141.44,305.9 1154.78,305.9 1168.11,305.9 1181.45,305.9 1194.79,305.9 1208.12,305.9 1221.46,305.9 1234.8,305.9 1248.14,305.9 1261.47,305.9 1274.81,305.9 1288.15,305.9 1301.49,305.9 1314.83,305.9 1328.16,305.9 1341.5,305.9" fill="none" stroke="#ff5a5a" stroke-width="1.3" stroke-dasharray="10.5 6.16"/>
<polyline points="808,89 821.34,90.7 834.67,91.8 848.01,92.6 861.35,92.8 874.69,92.8 888.02,92.8 901.36,92.8 914.7,92.8 928.04,92.8 941.38,92.8 954.71,92.8 968.05,92.8 981.39,92.8 994.73,92.8 1008.06,92.8 1021.4,92.8 1034.74,92.8 1048.08,92.8 1061.41,92.8 1074.75,92.8 1088.09,92.8 1101.42,92.8 1114.76,92.8 1128.1,92.8 1141.44,92.8 1154.78,92.8 1168.11,92.8 1181.45,92.8 1194.79,92.8 1208.12,92.8 1221.46,92.8 1234.8,92.8 1248.14,92.8 1261.47,92.8 1274.81,92.8 1288.15,92.8 1301.49,92.8 1314.83,92.8 1328.16,92.8 1341.5,92.8" fill="none" stroke="#2e2e2e" stroke-width="1.3" stroke-dasharray="1.4 2.9"/>
<circle cx="808" cy="89" r="1.6" fill="#2e2e2e"/>
<circle cx="821.34" cy="90.7" r="1.6" fill="#2e2e2e"/>
<circle cx="834.67" cy="91.8" r="1.6" fill="#2e2e2e"/>
<circle cx="848.01" cy="92.6" r="1.6" fill="#2e2e2e"/>
<circle cx="861.35" cy="92.8" r="1.6" fill="#2e2e2e"/>
<circle cx="874.69" cy="92.8" r="1.6" fill="#2e2e2e"/>
<circle cx="888.02" cy="92.8" r="1.6" fill="#2e2e2e"/>
<circle cx="901.36" cy="92.8" r="1.6" fill="#2e2e2e"/>
<circle cx="914.7" cy="92.8" r="1.6" fill="#2e2e2e"/>
<circle cx="928.04" cy="92.8" r="1.6" fill="#2e2e2e"/>
<circle cx="941.38" cy="92.8" r="1.6" fill="#2e2e2e"/>
<circle cx="954.71" cy="92.8" r="1.6" fill="#2e2e2e"/>
<circle cx="968.05" cy="92.8" r="1.6" fill="#2e2e2e"/>
<circle cx="981.39" cy="92.8" r="1.6" fill="#2e2e2e"/>
<circle cx="994.73" cy="92.8" r="1.6" fill="#2e2e2e"/>
<circle cx="1008.06" cy="92.8" r="1.6" fill="#2e2e2e"/>
<circle cx="1021.4" cy="92.8" r="1.6" fill="#2e2e2e"/>
<circle cx="1034.74" cy="92.8" r="1.6" fill="#2e2e2e"/>
<circle cx="1048.08" cy="92.8" r="1.6" fill="#2e2e2e"/>
<circle cx="1061.41" cy="92.8" r="1.6" fill="#2e2e2e"/>
<circle cx="1074.75" cy="92.8" r="1.6" fill="#2e2e2e"/>
<circle cx="1088.09" cy="92.8" r="1.6" fill="#2e2e2e"/>
<circle cx="1101.42" cy="92.8" r="1.6" fill="#2e2e2e"/>
<circle cx="1114.76" cy="92.8" r="1.6" fill="#2e2e2e"/>
<circle cx="1128.1" cy="92.8" r="1.6" fill="#2e2e2e"/>
<circle cx="1141.44" cy="92.8" r="1.6" fill="#2e2e2e"/>
<circle cx="1154.78" cy="92.8" r="1.6" fill="#2e2e2e"/>
<circle cx="1168.11" cy="92.8" r="1.6" fill="#2e2e2e"/>
<circle cx="1181.45" cy="92.8" r="1.6" fill="#2e2e2e"/>
<circle cx="1194.79" cy="92.8" r="1.6" fill="#2e2e2e"/>
<circle cx="1208.12" cy="92.8" r="1.6" fill="#2e2e2e"/>
<circle cx="1221.46" cy="92.8" r="1.6" fill="#2e2e2e"/>
<circle cx="1234.8" cy="92.8" r="1.6" fill="#2e2e2e"/>
<circle cx="1248.14" cy="92.8" r="1.6" fill="#2e2e2e"/>
<circle cx="1261.47" cy="92.8" r="1.6" fill="#2e2e2e"/>
<circle cx="1274.81" cy="92.8" r="1.6" fill="#2e2e2e"/>
<circle cx="1288.15" cy="92.8" r="1.6" fill="#2e2e2e"/>
<circle cx="1301.49" cy="92.8" r="1.6" fill="#2e2e2e"/>
<circle cx="1314.83" cy="92.8" r="1.6" fill="#2e2e2e"/>
<circle cx="1328.16" cy="92.8" r="1.6" fill="#2e2e2e"/>
<circle cx="1341.5" cy="92.8" r="1.6" fill="#2e2e2e"/>
<polyline points="808,141 821.34,142.9 834.67,144.2 848.01,145.1 861.35,145.3 874.69,145.3 888.02,145.3 901.36,145.3 914.7,145.3 928.04,145.3 941.38,145.3 954.71,145.3 968.05,145.3 981.39,145.3 994.73,145.3 1008.06,145.3 1021.4,145.3 1034.74,145.3 1048.08,145.3 1061.41,145.3 1074.75,145.3 1088.09,145.3 1101.42,145.3 1114.76,145.3 1128.1,145.3 1141.44,145.3 1154.78,145.3 1168.11,145.3 1181.45,145.3 1194.79,145.3 1208.12,145.3 1221.46,145.3 1234.8,145.3 1248.14,145.3 1261.47,145.3 1274.81,145.3 1288.15,145.3 1301.49,145.3 1314.83,145.3 1328.16,145.3 1341.5,145.3" fill="none" stroke="#444444" stroke-width="1.3"/>
<polyline points="808,356.2 821.34,357.5 834.67,358.2 848.01,358.5" fill="none" stroke="#444444" stroke-width="1.55" stroke-dasharray="8.4 3.1 2.1 3.06"/>
<line x1="848.01" y1="358.5" x2="1341.5" y2="358.5" stroke="#5c5c5c" stroke-width="1.3" stroke-dasharray="8.4 3.1 2.1 3.06" stroke-dashoffset="6.78"/>
<polyline points="808,411.6 821.34,412.8 834.67,413.5 848.01,413.8" fill="none" stroke="#444444" stroke-width="1.55" stroke-dasharray="10.5 6.16"/>
<line x1="848.01" y1="413.8" x2="1341.5" y2="413.8" stroke="#808080" stroke-width="1.3" stroke-dasharray="10.5 6.16" stroke-dashoffset="6.77"/>
<rect x="808" y="11.6" width="533.5" height="472.8" fill="none" stroke="#3a3a3a" stroke-width="1.35"/>
<line x1="874.69" y1="479.2" x2="874.69" y2="484.4" stroke="#3a3a3a" stroke-width="1.1"/>
<line x1="874.69" y1="11.6" x2="874.69" y2="16.8" stroke="#3a3a3a" stroke-width="1.1"/>
<line x1="941.38" y1="479.2" x2="941.38" y2="484.4" stroke="#3a3a3a" stroke-width="1.1"/>
<line x1="941.38" y1="11.6" x2="941.38" y2="16.8" stroke="#3a3a3a" stroke-width="1.1"/>
<line x1="1008.06" y1="479.2" x2="1008.06" y2="484.4" stroke="#3a3a3a" stroke-width="1.1"/>
<line x1="1008.06" y1="11.6" x2="1008.06" y2="16.8" stroke="#3a3a3a" stroke-width="1.1"/>
<line x1="1074.75" y1="479.2" x2="1074.75" y2="484.4" stroke="#3a3a3a" stroke-width="1.1"/>
<line x1="1074.75" y1="11.6" x2="1074.75" y2="16.8" stroke="#3a3a3a" stroke-width="1.1"/>
<line x1="1141.44" y1="479.2" x2="1141.44" y2="484.4" stroke="#3a3a3a" stroke-width="1.1"/>
<line x1="1141.44" y1="11.6" x2="1141.44" y2="16.8" stroke="#3a3a3a" stroke-width="1.1"/>
<line x1="1208.12" y1="479.2" x2="1208.12" y2="484.4" stroke="#3a3a3a" stroke-width="1.1"/>
<line x1="1208.12" y1="11.6" x2="1208.12" y2="16.8" stroke="#3a3a3a" stroke-width="1.1"/>
<line x1="1274.81" y1="479.2" x2="1274.81" y2="484.4" stroke="#3a3a3a" stroke-width="1.1"/>
<line x1="1274.81" y1="11.6" x2="1274.81" y2="16.8" stroke="#3a3a3a" stroke-width="1.1"/>
<line x1="808" y1="66.68" x2="810.2" y2="66.68" stroke="#3a3a3a" stroke-width="0.9"/>
<line x1="1339.3" y1="66.68" x2="1341.5" y2="66.68" stroke="#3a3a3a" stroke-width="0.9"/>
<line x1="808" y1="52.8" x2="810.2" y2="52.8" stroke="#3a3a3a" stroke-width="0.9"/>
<line x1="1339.3" y1="52.8" x2="1341.5" y2="52.8" stroke="#3a3a3a" stroke-width="0.9"/>
<line x1="808" y1="42.96" x2="810.2" y2="42.96" stroke="#3a3a3a" stroke-width="0.9"/>
<line x1="1339.3" y1="42.96" x2="1341.5" y2="42.96" stroke="#3a3a3a" stroke-width="0.9"/>
<line x1="808" y1="35.32" x2="810.2" y2="35.32" stroke="#3a3a3a" stroke-width="0.9"/>
<line x1="1339.3" y1="35.32" x2="1341.5" y2="35.32" stroke="#3a3a3a" stroke-width="0.9"/>
<line x1="808" y1="29.08" x2="810.2" y2="29.08" stroke="#3a3a3a" stroke-width="0.9"/>
<line x1="1339.3" y1="29.08" x2="1341.5" y2="29.08" stroke="#3a3a3a" stroke-width="0.9"/>
<line x1="808" y1="23.81" x2="810.2" y2="23.81" stroke="#3a3a3a" stroke-width="0.9"/>
<line x1="1339.3" y1="23.81" x2="1341.5" y2="23.81" stroke="#3a3a3a" stroke-width="0.9"/>
<line x1="808" y1="19.24" x2="810.2" y2="19.24" stroke="#3a3a3a" stroke-width="0.9"/>
<line x1="1339.3" y1="19.24" x2="1341.5" y2="19.24" stroke="#3a3a3a" stroke-width="0.9"/>
<line x1="808" y1="15.21" x2="810.2" y2="15.21" stroke="#3a3a3a" stroke-width="0.9"/>
<line x1="1339.3" y1="15.21" x2="1341.5" y2="15.21" stroke="#3a3a3a" stroke-width="0.9"/>
<line x1="808" y1="90.4" x2="813.2" y2="90.4" stroke="#3a3a3a" stroke-width="1.1"/>
<line x1="1336.3" y1="90.4" x2="1341.5" y2="90.4" stroke="#3a3a3a" stroke-width="1.1"/>
<line x1="808" y1="145.48" x2="810.2" y2="145.48" stroke="#3a3a3a" stroke-width="0.9"/>
<line x1="1339.3" y1="145.48" x2="1341.5" y2="145.48" stroke="#3a3a3a" stroke-width="0.9"/>
<line x1="808" y1="131.6" x2="810.2" y2="131.6" stroke="#3a3a3a" stroke-width="0.9"/>
<line x1="1339.3" y1="131.6" x2="1341.5" y2="131.6" stroke="#3a3a3a" stroke-width="0.9"/>
<line x1="808" y1="121.76" x2="810.2" y2="121.76" stroke="#3a3a3a" stroke-width="0.9"/>
<line x1="1339.3" y1="121.76" x2="1341.5" y2="121.76" stroke="#3a3a3a" stroke-width="0.9"/>
<line x1="808" y1="114.12" x2="810.2" y2="114.12" stroke="#3a3a3a" stroke-width="0.9"/>
<line x1="1339.3" y1="114.12" x2="1341.5" y2="114.12" stroke="#3a3a3a" stroke-width="0.9"/>
<line x1="808" y1="107.88" x2="810.2" y2="107.88" stroke="#3a3a3a" stroke-width="0.9"/>
<line x1="1339.3" y1="107.88" x2="1341.5" y2="107.88" stroke="#3a3a3a" stroke-width="0.9"/>
<line x1="808" y1="102.61" x2="810.2" y2="102.61" stroke="#3a3a3a" stroke-width="0.9"/>
<line x1="1339.3" y1="102.61" x2="1341.5" y2="102.61" stroke="#3a3a3a" stroke-width="0.9"/>
<line x1="808" y1="98.04" x2="810.2" y2="98.04" stroke="#3a3a3a" stroke-width="0.9"/>
<line x1="1339.3" y1="98.04" x2="1341.5" y2="98.04" stroke="#3a3a3a" stroke-width="0.9"/>
<line x1="808" y1="94.01" x2="810.2" y2="94.01" stroke="#3a3a3a" stroke-width="0.9"/>
<line x1="1339.3" y1="94.01" x2="1341.5" y2="94.01" stroke="#3a3a3a" stroke-width="0.9"/>
<line x1="808" y1="169.2" x2="813.2" y2="169.2" stroke="#3a3a3a" stroke-width="1.1"/>
<line x1="1336.3" y1="169.2" x2="1341.5" y2="169.2" stroke="#3a3a3a" stroke-width="1.1"/>
<line x1="808" y1="224.28" x2="810.2" y2="224.28" stroke="#3a3a3a" stroke-width="0.9"/>
<line x1="1339.3" y1="224.28" x2="1341.5" y2="224.28" stroke="#3a3a3a" stroke-width="0.9"/>
<line x1="808" y1="210.4" x2="810.2" y2="210.4" stroke="#3a3a3a" stroke-width="0.9"/>
<line x1="1339.3" y1="210.4" x2="1341.5" y2="210.4" stroke="#3a3a3a" stroke-width="0.9"/>
<line x1="808" y1="200.56" x2="810.2" y2="200.56" stroke="#3a3a3a" stroke-width="0.9"/>
<line x1="1339.3" y1="200.56" x2="1341.5" y2="200.56" stroke="#3a3a3a" stroke-width="0.9"/>
<line x1="808" y1="192.92" x2="810.2" y2="192.92" stroke="#3a3a3a" stroke-width="0.9"/>
<line x1="1339.3" y1="192.92" x2="1341.5" y2="192.92" stroke="#3a3a3a" stroke-width="0.9"/>
<line x1="808" y1="186.68" x2="810.2" y2="186.68" stroke="#3a3a3a" stroke-width="0.9"/>
<line x1="1339.3" y1="186.68" x2="1341.5" y2="186.68" stroke="#3a3a3a" stroke-width="0.9"/>
<line x1="808" y1="181.41" x2="810.2" y2="181.41" stroke="#3a3a3a" stroke-width="0.9"/>
<line x1="1339.3" y1="181.41" x2="1341.5" y2="181.41" stroke="#3a3a3a" stroke-width="0.9"/>
<line x1="808" y1="176.84" x2="810.2" y2="176.84" stroke="#3a3a3a" stroke-width="0.9"/>
<line x1="1339.3" y1="176.84" x2="1341.5" y2="176.84" stroke="#3a3a3a" stroke-width="0.9"/>
<line x1="808" y1="172.81" x2="810.2" y2="172.81" stroke="#3a3a3a" stroke-width="0.9"/>
<line x1="1339.3" y1="172.81" x2="1341.5" y2="172.81" stroke="#3a3a3a" stroke-width="0.9"/>
<line x1="808" y1="248" x2="813.2" y2="248" stroke="#3a3a3a" stroke-width="1.1"/>
<line x1="1336.3" y1="248" x2="1341.5" y2="248" stroke="#3a3a3a" stroke-width="1.1"/>
<line x1="808" y1="303.08" x2="810.2" y2="303.08" stroke="#3a3a3a" stroke-width="0.9"/>
<line x1="1339.3" y1="303.08" x2="1341.5" y2="303.08" stroke="#3a3a3a" stroke-width="0.9"/>
<line x1="808" y1="289.2" x2="810.2" y2="289.2" stroke="#3a3a3a" stroke-width="0.9"/>
<line x1="1339.3" y1="289.2" x2="1341.5" y2="289.2" stroke="#3a3a3a" stroke-width="0.9"/>
<line x1="808" y1="279.36" x2="810.2" y2="279.36" stroke="#3a3a3a" stroke-width="0.9"/>
<line x1="1339.3" y1="279.36" x2="1341.5" y2="279.36" stroke="#3a3a3a" stroke-width="0.9"/>
<line x1="808" y1="271.72" x2="810.2" y2="271.72" stroke="#3a3a3a" stroke-width="0.9"/>
<line x1="1339.3" y1="271.72" x2="1341.5" y2="271.72" stroke="#3a3a3a" stroke-width="0.9"/>
<line x1="808" y1="265.48" x2="810.2" y2="265.48" stroke="#3a3a3a" stroke-width="0.9"/>
<line x1="1339.3" y1="265.48" x2="1341.5" y2="265.48" stroke="#3a3a3a" stroke-width="0.9"/>
<line x1="808" y1="260.21" x2="810.2" y2="260.21" stroke="#3a3a3a" stroke-width="0.9"/>
<line x1="1339.3" y1="260.21" x2="1341.5" y2="260.21" stroke="#3a3a3a" stroke-width="0.9"/>
<line x1="808" y1="255.64" x2="810.2" y2="255.64" stroke="#3a3a3a" stroke-width="0.9"/>
<line x1="1339.3" y1="255.64" x2="1341.5" y2="255.64" stroke="#3a3a3a" stroke-width="0.9"/>
<line x1="808" y1="251.61" x2="810.2" y2="251.61" stroke="#3a3a3a" stroke-width="0.9"/>
<line x1="1339.3" y1="251.61" x2="1341.5" y2="251.61" stroke="#3a3a3a" stroke-width="0.9"/>
<line x1="808" y1="326.8" x2="813.2" y2="326.8" stroke="#3a3a3a" stroke-width="1.1"/>
<line x1="1336.3" y1="326.8" x2="1341.5" y2="326.8" stroke="#3a3a3a" stroke-width="1.1"/>
<line x1="808" y1="381.88" x2="810.2" y2="381.88" stroke="#3a3a3a" stroke-width="0.9"/>
<line x1="1339.3" y1="381.88" x2="1341.5" y2="381.88" stroke="#3a3a3a" stroke-width="0.9"/>
<line x1="808" y1="368" x2="810.2" y2="368" stroke="#3a3a3a" stroke-width="0.9"/>
<line x1="1339.3" y1="368" x2="1341.5" y2="368" stroke="#3a3a3a" stroke-width="0.9"/>
<line x1="808" y1="358.16" x2="810.2" y2="358.16" stroke="#3a3a3a" stroke-width="0.9"/>
<line x1="1339.3" y1="358.16" x2="1341.5" y2="358.16" stroke="#3a3a3a" stroke-width="0.9"/>
<line x1="808" y1="350.52" x2="810.2" y2="350.52" stroke="#3a3a3a" stroke-width="0.9"/>
<line x1="1339.3" y1="350.52" x2="1341.5" y2="350.52" stroke="#3a3a3a" stroke-width="0.9"/>
<line x1="808" y1="344.28" x2="810.2" y2="344.28" stroke="#3a3a3a" stroke-width="0.9"/>
<line x1="1339.3" y1="344.28" x2="1341.5" y2="344.28" stroke="#3a3a3a" stroke-width="0.9"/>
<line x1="808" y1="339.01" x2="810.2" y2="339.01" stroke="#3a3a3a" stroke-width="0.9"/>
<line x1="1339.3" y1="339.01" x2="1341.5" y2="339.01" stroke="#3a3a3a" stroke-width="0.9"/>
<line x1="808" y1="334.44" x2="810.2" y2="334.44" stroke="#3a3a3a" stroke-width="0.9"/>
<line x1="1339.3" y1="334.44" x2="1341.5" y2="334.44" stroke="#3a3a3a" stroke-width="0.9"/>
<line x1="808" y1="330.41" x2="810.2" y2="330.41" stroke="#3a3a3a" stroke-width="0.9"/>
<line x1="1339.3" y1="330.41" x2="1341.5" y2="330.41" stroke="#3a3a3a" stroke-width="0.9"/>
<line x1="808" y1="405.6" x2="813.2" y2="405.6" stroke="#3a3a3a" stroke-width="1.1"/>
<line x1="1336.3" y1="405.6" x2="1341.5" y2="405.6" stroke="#3a3a3a" stroke-width="1.1"/>
<line x1="808" y1="460.68" x2="810.2" y2="460.68" stroke="#3a3a3a" stroke-width="0.9"/>
<line x1="1339.3" y1="460.68" x2="1341.5" y2="460.68" stroke="#3a3a3a" stroke-width="0.9"/>
<line x1="808" y1="446.8" x2="810.2" y2="446.8" stroke="#3a3a3a" stroke-width="0.9"/>
<line x1="1339.3" y1="446.8" x2="1341.5" y2="446.8" stroke="#3a3a3a" stroke-width="0.9"/>
<line x1="808" y1="436.96" x2="810.2" y2="436.96" stroke="#3a3a3a" stroke-width="0.9"/>
<line x1="1339.3" y1="436.96" x2="1341.5" y2="436.96" stroke="#3a3a3a" stroke-width="0.9"/>
<line x1="808" y1="429.32" x2="810.2" y2="429.32" stroke="#3a3a3a" stroke-width="0.9"/>
<line x1="1339.3" y1="429.32" x2="1341.5" y2="429.32" stroke="#3a3a3a" stroke-width="0.9"/>
<line x1="808" y1="423.08" x2="810.2" y2="423.08" stroke="#3a3a3a" stroke-width="0.9"/>
<line x1="1339.3" y1="423.08" x2="1341.5" y2="423.08" stroke="#3a3a3a" stroke-width="0.9"/>
<line x1="808" y1="417.81" x2="810.2" y2="417.81" stroke="#3a3a3a" stroke-width="0.9"/>
<line x1="1339.3" y1="417.81" x2="1341.5" y2="417.81" stroke="#3a3a3a" stroke-width="0.9"/>
<line x1="808" y1="413.24" x2="810.2" y2="413.24" stroke="#3a3a3a" stroke-width="0.9"/>
<line x1="1339.3" y1="413.24" x2="1341.5" y2="413.24" stroke="#3a3a3a" stroke-width="0.9"/>
<line x1="808" y1="409.21" x2="810.2" y2="409.21" stroke="#3a3a3a" stroke-width="0.9"/>
<line x1="1339.3" y1="409.21" x2="1341.5" y2="409.21" stroke="#3a3a3a" stroke-width="0.9"/>
<text x="808" y="510.55" font-size="19.7" text-anchor="middle" fill="#2a2a2a">0</text>
<text x="874.69" y="510.55" font-size="19.7" text-anchor="middle" fill="#2a2a2a">10</text>
<text x="941.38" y="510.55" font-size="19.7" text-anchor="middle" fill="#2a2a2a">20</text>
<text x="1008.06" y="510.55" font-size="19.7" text-anchor="middle" fill="#2a2a2a">30</text>
<text x="1074.75" y="510.55" font-size="19.7" text-anchor="middle" fill="#2a2a2a">40</text>
<text x="1141.44" y="510.55" font-size="19.7" text-anchor="middle" fill="#2a2a2a">50</text>
<text x="1208.12" y="510.55" font-size="19.7" text-anchor="middle" fill="#2a2a2a">60</text>
<text x="1274.81" y="510.55" font-size="19.7" text-anchor="middle" fill="#2a2a2a">70</text>
<text x="1341.5" y="510.55" font-size="19.7" text-anchor="middle" fill="#2a2a2a">80</text>
<text transform="translate(1074.75 536.4) scale(0.925 1)" font-size="22.9" text-anchor="middle" fill="#2a2a2a">SNR [dB]</text>
<text transform="translate(799.4 21.7) scale(0.955 1)" font-size="19.7" text-anchor="end" fill="#2a2a2a">10<tspan font-size="15.8" dy="-8.9">0</tspan></text>
<text transform="translate(799.4 100.5) scale(0.955 1)" font-size="19.7" text-anchor="end" fill="#2a2a2a">10<tspan font-size="15.8" dy="-8.9">-1</tspan></text>
<text transform="translate(799.4 179.3) scale(0.955 1)" font-size="19.7" text-anchor="end" fill="#2a2a2a">10<tspan font-size="15.8" dy="-8.9">-2</tspan></text>
<text transform="translate(799.4 258.1) scale(0.955 1)" font-size="19.7" text-anchor="end" fill="#2a2a2a">10<tspan font-size="15.8" dy="-8.9">-3</tspan></text>
<text transform="translate(799.4 336.9) scale(0.955 1)" font-size="19.7" text-anchor="end" fill="#2a2a2a">10<tspan font-size="15.8" dy="-8.9">-4</tspan></text>
<text transform="translate(799.4 415.7) scale(0.955 1)" font-size="19.7" text-anchor="end" fill="#2a2a2a">10<tspan font-size="15.8" dy="-8.9">-5</tspan></text>
<text transform="translate(799.4 494.5) scale(0.955 1)" font-size="19.7" text-anchor="end" fill="#2a2a2a">10<tspan font-size="15.8" dy="-8.9">-6</tspan></text>
<text transform="translate(758.1 248) rotate(-90)" font-size="21.3" text-anchor="middle" fill="#2a2a2a">Average BER</text>
<text x="830.8" y="35.2" font-size="19.63" text-anchor="start" fill="#111">(a=11, b=4, ρ=1), ξ=5.03, σ=29.075 ps, R=24 Gbps</text>
<rect x="1207.3" y="298.6" width="122.6" height="174.4" fill="#fff" stroke="#3a3a3a" stroke-width="1.2"/>
<line x1="1211" y1="310.3" x2="1253.2" y2="310.3" stroke="#444444" stroke-width="1.3"/>
<text transform="translate(1256.6 317.1) scale(0.945 1)" font-size="18.7" fill="#2a2a2a">Case 51A</text>
<line x1="1211" y1="331.82" x2="1250.2" y2="331.82" stroke="#444444" stroke-width="1.2" stroke-dasharray="1.4 2.8"/>
<circle cx="1232.1" cy="331.82" r="1.6" fill="#444444"/>
<text transform="translate(1256.6 338.62) scale(0.945 1)" font-size="18.7" fill="#2a2a2a">Case 51B</text>
<line x1="1211" y1="353.34" x2="1253.2" y2="353.34" stroke="#444444" stroke-width="1.3" stroke-dasharray="11.8 4.7"/>
<text transform="translate(1256.6 360.14) scale(0.945 1)" font-size="18.7" fill="#2a2a2a">Case 52A</text>
<line x1="1211" y1="374.86" x2="1253.2" y2="374.86" stroke="#444444" stroke-width="1.3" stroke-dasharray="10.9 2 1.6 2"/>
<text transform="translate(1256.6 381.66) scale(0.945 1)" font-size="18.7" fill="#2a2a2a">Case 52B</text>
<line x1="1211" y1="396.38" x2="1253.2" y2="396.38" stroke="#ff5a5a" stroke-width="1.3"/>
<text transform="translate(1256.6 403.18) scale(0.945 1)" font-size="18.7" fill="#2a2a2a">Case 61A</text>
<line x1="1211" y1="417.9" x2="1250.2" y2="417.9" stroke="#ff5a5a" stroke-width="1.2" stroke-dasharray="1.4 2.8"/>
<circle cx="1232.1" cy="417.9" r="1.6" fill="#ff5a5a"/>
<text transform="translate(1256.6 424.7) scale(0.945 1)" font-size="18.7" fill="#2a2a2a">Case 61B</text>
<line x1="1211" y1="439.42" x2="1253.2" y2="439.42" stroke="#ff5a5a" stroke-width="1.3" stroke-dasharray="11.8 4.7"/>
<text transform="translate(1256.6 446.22) scale(0.945 1)" font-size="18.7" fill="#2a2a2a">Case 62A</text>
<line x1="1211" y1="460.94" x2="1253.2" y2="460.94" stroke="#ff5a5a" stroke-width="1.3" stroke-dasharray="10.9 2 1.6 2"/>
<text transform="translate(1256.6 467.74) scale(0.945 1)" font-size="18.7" fill="#2a2a2a">Case 62B</text>
<g class="cap" font-size="27.2" fill="#000"><text x="317" y="624.8" text-anchor="start">(</text><text x="333.9" y="624.7" text-anchor="middle" font-weight="bold" font-size="27">a</text><text x="349.5" y="624.8" text-anchor="end">)</text></g>
<g class="cap" font-size="27.2" fill="#000"><text x="1042.8" y="624.8" text-anchor="start">(</text><text x="1060.5" y="624.7" text-anchor="middle" font-weight="bold" font-size="27">b</text><text x="1078.7" y="624.8" text-anchor="end">)</text></g>
</svg>
</body>
</html>
